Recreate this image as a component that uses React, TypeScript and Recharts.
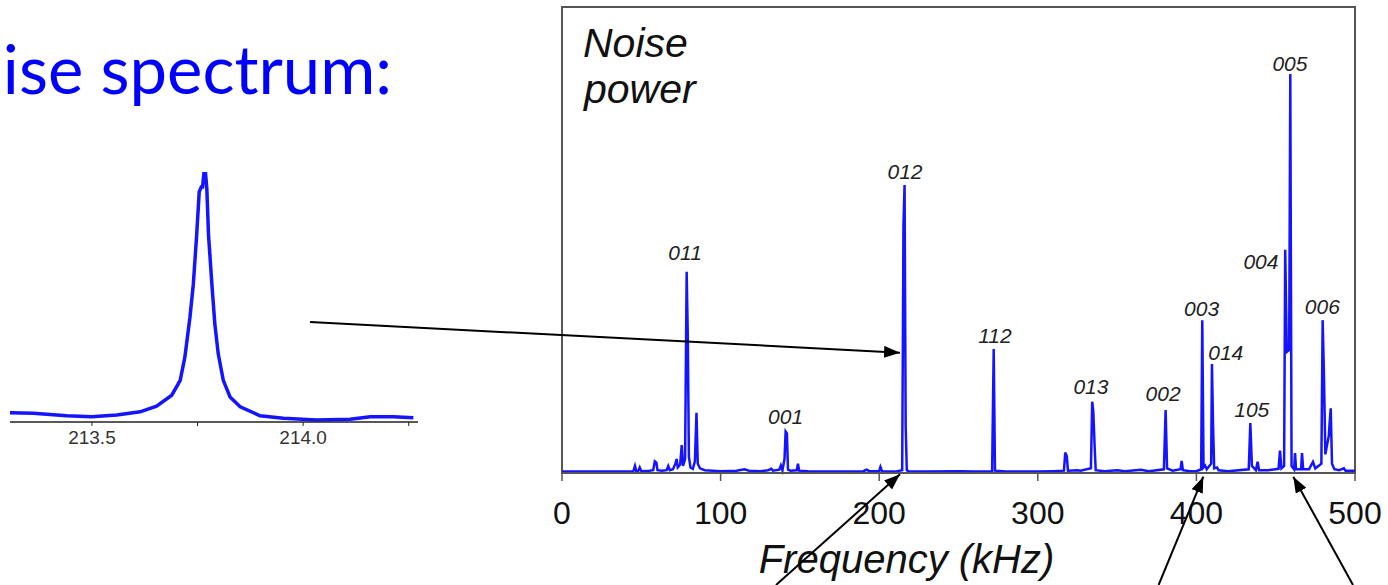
import React from 'react';
import { ComposedChart, LineChart, Line, Scatter, XAxis, YAxis, ReferenceArea } from 'recharts';

// main spectrum: [frequency kHz, noise power (arb.)]
const SPECTRUM: [number, number][] = [
  [0, 0.3], [30, 0.3], [45, 0.4], [46, 1.5], [46.8, 0.4], [48, 0.4], [49, 1.2], [50, 0.4],
  [55, 0.5], [57.5, 0.6], [58.5, 2.5], [59.5, 2.2], [60.2, 0.6], [63, 0.5], [66, 0.6], [67, 1.5],
  [68, 0.6], [70, 0.8], [71.5, 2.0], [72.3, 3.0], [73, 1.2], [74.5, 1.8], [75.5, 6.0], [76.3, 1.5],
  [77.6, 3.0], [78.6, 43.2], [79.3, 29.6], [80, 3.5], [81, 1.2], [82.5, 0.9], [83.8, 2.5], [84.8, 12.9],
  [85.6, 2.0], [87, 1.0], [90, 0.6], [95, 0.5], [100, 0.4], [110, 0.5], [115, 0.8], [118, 0.5],
  [125, 0.4], [130, 0.6], [132, 0.9], [133, 0.5], [137, 0.7], [138, 1.6], [139, 0.6], [140.3, 3.0],
  [141, 8.9], [141.8, 8.5], [142.5, 0.7], [144, 0.5], [148, 0.6], [148.8, 2.0], [149.5, 0.5], [155, 0.4],
  [170, 0.3], [190, 0.4], [192, 0.7], [194, 0.4], [200, 0.4], [200.8, 1.3], [201.8, 0.4], [210, 0.3],
  [214.5, 0.6], [215.3, 53.2], [216, 61.8], [216.7, 10], [217.4, 0.6], [218.5, 0.4], [230, 0.3], [250, 0.4],
  [260, 0.3], [271.2, 0.4], [272.2, 26.6], [273, 0.5], [280, 0.3], [300, 0.3], [310, 0.4], [316.5, 0.5],
  [317.3, 4.4], [318.3, 3.6], [319, 0.5], [325, 0.6], [327, 0.5], [333.5, 1], [334.3, 15.3], [335, 13.2],
  [335.8, 6], [336.5, 0.6], [342, 0.4], [350, 0.6], [355, 0.4], [365, 0.7], [370, 0.4], [379.5, 0.8],
  [380.6, 13.5], [381.5, 1], [385, 0.5], [390, 0.8], [390.7, 2.6], [391.5, 0.6], [396, 0.4], [400, 0.4],
  [403, 0.8], [403.7, 32.8], [404.5, 1.2], [405.5, 1.6], [406.5, 0.8], [409.3, 2], [409.8, 23.4], [410.5, 10.3],
  [411.2, 1], [413, 1.2], [414, 0.6], [420, 0.4], [433, 0.8], [434, 10.7], [435, 1.5], [437.5, 0.6],
  [438.6, 2.4], [439.5, 0.6], [445, 0.6], [451.8, 0.9], [452.7, 4.8], [453.6, 1], [455.3, 1.5], [456, 47.9],
  [457, 26], [458.5, 26.4], [459.2, 85.6], [460, 1.5], [461.6, 0.8], [462.2, 4.3], [462.8, 0.8], [466, 0.8],
  [466.6, 4.3], [467.3, 0.8], [471, 0.8], [473.5, 2.4], [475, 1.0], [478.8, 2], [479.6, 32.8], [480.4, 21.5],
  [481.3, 4], [483.5, 8], [484, 10.7], [484.7, 13.9], [485.5, 2], [487, 0.8], [490, 0.6], [493, 1.0],
  [494, 0.5], [500, 0.5],
];

// mode labels placed where they sit on the plot: [name, kHz, power]
const PEAK_LABELS: [string, number, number][] = [
  ['011', 77.6, 47.3], ['001', 141.0, 12.1], ['012', 216.3, 64.8], ['112', 273.0, 29.4],
  ['013', 333.5, 18.5], ['002', 379.0, 17.0], ['003', 403.3, 35.2], ['014', 418.5, 25.8],
  ['105', 434.9, 13.7], ['004', 440.7, 45.3], ['005', 459.0, 87.9], ['006', 479.4, 35.7],
];

const FREQ_TICKS = [0, 100, 200, 300, 400, 500];

// zoom on the 012 line: [kHz, power]
const INSET: [number, number][] = [
  [213.302, 9.3], [213.361, 8.7], [213.44, 6.3], [213.499, 5.3], [213.559, 7], [213.614, 10.3],
  [213.653, 16], [213.689, 27], [213.709, 42], [213.72, 65.3], [213.732, 105.3], [213.74, 138.7],
  [213.748, 188.7], [213.754, 232], [213.759, 237], [213.762, 237], [213.765, 250.3], [213.769, 250.3],
  [213.772, 235.3], [213.776, 188.7], [213.784, 138.7], [213.791, 98.7], [213.799, 68.7], [213.811, 42],
  [213.827, 25.3], [213.851, 15.3], [213.898, 6.3], [213.953, 3.7], [214.032, 2], [214.111, 2.7],
  [214.159, 5.3], [214.214, 5.3], [214.261, 4.3],
];

const INSET_TICKS = [213.5, 213.75, 214.0, 214.25];
const INSET_TICK_LABELS = ['213.5', '', '214.0', ''];

const BLUE = '#1414ff';
const SANS = 'Liberation Sans, Arial, sans-serif';

const spectrumData = SPECTRUM.map(([f, p]) => ({ f, p }));
const labelData = PEAK_LABELS.map(([name, f, p]) => ({ name, f, p }));
const insetData = INSET.map(([f, p]) => ({ f, p }));

const PeakLabel = (props: any) => (
  <text x={props.cx} y={props.cy} textAnchor="middle" dominantBaseline="central"
    fontFamily={SANS} fontStyle="italic" fontSize={21} fill="#222">
    {props.payload.name}
  </text>
);

const arrows = [
  [310, 322, 900, 352.7],
  [776, 585, 900, 474.3],
  [1158.6, 585, 1203.3, 476.7],
  [1353, 585, 1293.3, 476.7],
];

const App: React.FC = () => {
  return (
    <div style={{ position: 'absolute', left: 0, top: 0, width: 1388, height: 585, background: '#fff', overflow: 'hidden' }}>
      <div style={{ position: 'absolute', left: 0, top: 150 }}>
        <LineChart width={430} height={320} data={insetData} margin={{ top: 22, right: 12, bottom: 18, left: 10 }}>
          <XAxis dataKey="f" type="number" domain={[213.306, 214.272]} ticks={INSET_TICKS}
            tickFormatter={(v: number) => INSET_TICK_LABELS[INSET_TICKS.indexOf(v)] ?? ''}
            height={30} tickSize={4} tickMargin={5} allowDataOverflow
            axisLine={{ stroke: '#222', strokeWidth: 1.5 }} tickLine={{ stroke: '#222' }}
            tick={{ fontSize: 19, fill: '#333', fontFamily: SANS }} />
          <YAxis hide type="number" domain={[0, 252]} />
          <Line dataKey="p" type="linear" stroke={BLUE} strokeWidth={3.5} dot={false} isAnimationActive={false} />
        </LineChart>
      </div>

      <div style={{ position: 'absolute', left: 540, top: 0 }}>
        <ComposedChart width={848} height={585} margin={{ top: 7, right: 33, bottom: 12, left: 22 }}>
          <XAxis dataKey="f" type="number" domain={[0, 500]} ticks={FREQ_TICKS} height={100}
            tickSize={8} tickMargin={20} axisLine={{ stroke: '#555', strokeWidth: 2 }} tickLine={{ stroke: '#555', strokeWidth: 1.5 }}
            tick={{ fontSize: 32, fill: '#111', fontFamily: SANS }}
            label={{ value: 'Frequency (kHz)', position: 'insideBottom', offset: 0, dx: -52,
              style: { fontSize: 40, fontStyle: 'italic', fill: '#111', fontFamily: SANS } }} />
          <YAxis hide type="number" domain={[0, 100]} />
          <ReferenceArea x1={0} x2={500} y1={0} y2={100} fill="none" stroke="#555" strokeWidth={2} />
          <Line data={spectrumData} dataKey="p" type="linear" stroke={BLUE} strokeWidth={2.5} dot={false} isAnimationActive={false} />
          <Scatter data={labelData} dataKey="p" shape={PeakLabel} isAnimationActive={false} />
        </ComposedChart>
      </div>

      <svg width={1388} height={585} style={{ position: 'absolute', left: 0, top: 0, pointerEvents: 'none' }}>
        <defs>
          <marker id="head" markerUnits="userSpaceOnUse" markerWidth={16} markerHeight={12} refX={16} refY={6} orient="auto">
            <path d="M0,0 L16,6 L0,12 z" fill="#000" />
          </marker>
        </defs>
        <text x={392} y={94} textAnchor="end" fontFamily="Lato, Noto Sans, sans-serif" fontSize={67} fill="#0000ff">ise spectrum:</text>
        <text x={583} y={57} fontFamily={SANS} fontStyle="italic" fontSize={41} fill="#111">Noise</text>
        <text x={584} y={103} fontFamily={SANS} fontStyle="italic" fontSize={41} fill="#111">power</text>
        {arrows.map(([x1, y1, x2, y2], i) => (
          <line key={i} x1={x1} y1={y1} x2={x2} y2={y2} stroke="#000" strokeWidth={2} markerEnd="url(#head)" />
        ))}
      </svg>
    </div>
  );
};

export default App;
